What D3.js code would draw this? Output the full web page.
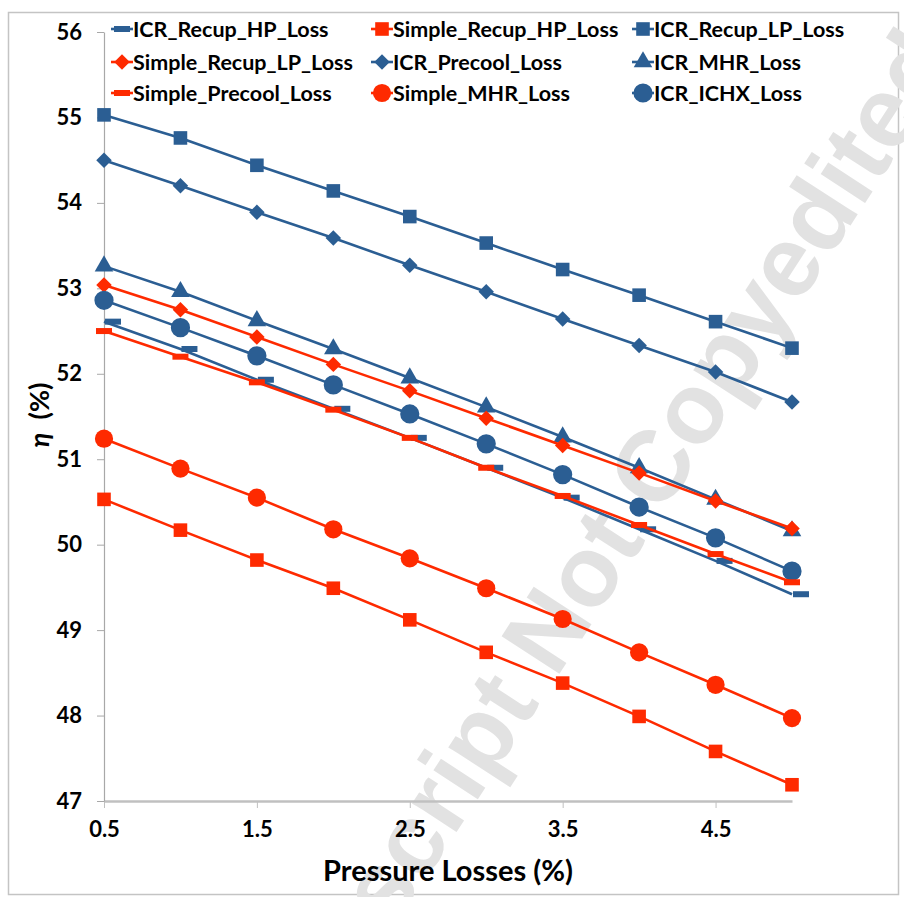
<!DOCTYPE html>
<html>
<head>
<meta charset="utf-8">
<script src="https://cdn.jsdelivr.net/npm/d3@7"></script>
<style>
	body { margin: 0; background: #fff; }
	svg text { font-family: Lato, "Open Sans", sans-serif; font-weight: bold; }
</style>
</head>
<body>
<svg></svg>
<script>
const svgWidth = 904;
const svgHeight = 897;
const svg = d3.select("svg")
				.attr("width", svgWidth)
				.attr("height", svgHeight);

const blue = "#2b5e93";
const red = "#fe2a00";

// pressure losses (%) on the x axis
const pressureLoss = [0.5, 1, 1.5, 2, 2.5, 3, 3.5, 4, 4.5, 5];
const xTickValues = [0.5, 1.5, 2.5, 3.5, 4.5];
const yTickValues = [47, 48, 49, 50, 51, 52, 53, 54, 55, 56];

// efficiency values
const icrRecupHP     = [52.61, 52.29, 51.93, 51.59, 51.25, 50.90, 50.55, 50.18, 49.81, 49.42];
const simpleRecupHP  = [50.53, 50.17, 49.82, 49.49, 49.12, 48.74, 48.38, 47.99, 47.58, 47.19];
const icrRecupLP     = [55.03, 54.76, 54.44, 54.14, 53.84, 53.53, 53.22, 52.92, 52.61, 52.30];
const simpleRecupLP  = [53.04, 52.75, 52.43, 52.11, 51.80, 51.48, 51.16, 50.84, 50.51, 50.19];
const icrPrecool     = [54.50, 54.20, 53.89, 53.59, 53.27, 52.96, 52.64, 52.33, 52.02, 51.67];
const icrMHR         = [53.26, 52.96, 52.62, 52.29, 51.95, 51.61, 51.26, 50.90, 50.53, 50.16];
const simplePrecool  = [52.50, 52.20, 51.90, 51.58, 51.25, 50.90, 50.57, 50.23, 49.89, 49.56];
const simpleMHR      = [51.24, 50.89, 50.55, 50.18, 49.84, 49.49, 49.13, 48.74, 48.36, 47.97];
const icrICHX        = [52.86, 52.54, 52.21, 51.87, 51.53, 51.18, 50.82, 50.44, 50.08, 49.69];

// legend order (row by row, 3 columns)
const series = [
	{name: "ICR_Recup_HP_Loss", values: icrRecupHP, color: blue, marker: "dash", shift: 9},
	{name: "Simple_Recup_HP_Loss", values: simpleRecupHP, color: red, marker: "square"},
	{name: "ICR_Recup_LP_Loss", values: icrRecupLP, color: blue, marker: "square"},
	{name: "Simple_Recup_LP_Loss", values: simpleRecupLP, color: red, marker: "diamond"},
	{name: "ICR_Precool_Loss", values: icrPrecool, color: blue, marker: "diamond"},
	{name: "ICR_MHR_Loss", values: icrMHR, color: blue, marker: "triangle"},
	{name: "Simple_Precool_Loss", values: simplePrecool, color: red, marker: "dash"},
	{name: "Simple_MHR_Loss", values: simpleMHR, color: red, marker: "circle"},
	{name: "ICR_ICHX_Loss", values: icrICHX, color: blue, marker: "circle"}
];
// drawing order so that overlaps look like the original
const drawOrder = [2, 4, 5, 3, 8, 0, 6, 7, 1];

const xScale = d3.scaleLinear().domain([0.5, 5]).range([104, 792]);
const yScale = d3.scaleLinear().domain([47, 56]).range([801, 32]);

// outer frame
svg.append("rect")
	.attr("x", 8.5).attr("y", 12.5)
	.attr("width", 890).attr("height", 882)
	.attr("fill", "none")
	.attr("stroke", "#c4c4c4")
	.attr("stroke-width", 1.5);

// watermark
svg.append("text")
	.text("Manuscript Not Copyedited")
	.attr("transform", "translate(250,1150) rotate(-57)")
	.attr("font-size", "100px")
	.style("font-family", "'Liberation Sans', Arial, sans-serif")
	.attr("fill", "#e2e2e2");

// axes
let xAxis = d3.axisBottom(xScale)
				.tickValues(xTickValues)
				.tickSizeInner(7)
				.tickSizeOuter(0)
				.tickPadding(13)
				.tickFormat(d3.format(".1f"));
let yAxis = d3.axisLeft(yScale)
				.tickValues(yTickValues)
				.tickSizeInner(7)
				.tickSizeOuter(0)
				.tickPadding(15)
				.tickFormat(d3.format("d"));

let gx = svg.append("g")
	.attr("transform", `translate(0, ${yScale(47)})`)
	.call(xAxis);
gx.select(".domain").attr("stroke", "#c0c0c0").attr("stroke-width", 2.5);
gx.selectAll(".tick line").attr("stroke", "#c0c0c0");
gx.selectAll(".tick text").attr("font-size", "22px").attr("fill", "#000");

let gy = svg.append("g")
	.attr("transform", `translate(${xScale(0.5)}, 0)`)
	.call(yAxis);
gy.select(".domain").attr("stroke", "#a8a8a8").attr("stroke-width", 1.2);
gy.selectAll(".tick line").attr("stroke", "#a8a8a8");
gy.selectAll(".tick text").attr("font-size", "22px").attr("fill", "#000");

// axis titles
svg.append("text")
	.text("Pressure Losses (%)")
	.attr("x", 448)
	.attr("y", 881)
	.attr("font-size", "29px")
	.attr("text-anchor", "middle");

svg.append("text")
	.attr("transform", "rotate(-90)")
	.attr("x", -415)
	.attr("y", 49)
	.attr("font-size", "27px")
	.attr("text-anchor", "middle")
	.call(t => {
		t.append("tspan").text("η").attr("font-style", "italic");
		t.append("tspan").text("\u00a0\u00a0(%)");
	});

// marker helper
function drawMarker(sel, type, color) {
	if (type == "dash") {
		sel.append("rect")
			.attr("x", -8).attr("y", -3)
			.attr("width", 16).attr("height", 6)
			.attr("fill", color);
	} else if (type == "square") {
		sel.append("path").attr("d", d3.symbol(d3.symbolSquare, 185)()).attr("fill", color);
	} else if (type == "diamond") {
		sel.append("path").attr("d", d3.symbol(d3.symbolSquare, 120)())
			.attr("transform", "rotate(45)").attr("fill", color);
	} else if (type == "triangle") {
		sel.append("path").attr("d", d3.symbol(d3.symbolTriangle, 150)()).attr("fill", color);
	} else if (type == "circle") {
		sel.append("path").attr("d", d3.symbol(d3.symbolCircle, color == blue ? 290 : 260)()).attr("fill", color);
	}
}

const line = d3.line()
				.x((d, i) => xScale(pressureLoss[i]))
				.y(d => yScale(d));

let plot = svg.append("g");
drawOrder.forEach(k => {
	let s = series[k];
	let g = plot.append("g");
	g.append("path")
		.attr("d", line(s.values))
		.attr("fill", "none")
		.attr("stroke", s.color)
		.attr("stroke-width", 2.6);
	g.selectAll("g.pt")
		.data(s.values)
		.enter()
		.append("g")
			.attr("class", "pt")
			.attr("transform", (d, i) => `translate(${xScale(pressureLoss[i]) + (s.shift || 0)}, ${yScale(d)})`)
			.each(function () { drawMarker(d3.select(this), s.marker, s.color); });
});

// legend
const legendCols = [122, 382, 643];
const legendRows = [29, 62, 93];
let legend = svg.append("g");
series.forEach((s, i) => {
	let cx = legendCols[i % 3];
	let cy = legendRows[Math.floor(i / 3)];
	let item = legend.append("g").attr("transform", `translate(${cx}, ${cy})`);
	item.append("line")
		.attr("x1", -11).attr("x2", 11)
		.attr("stroke", s.color)
		.attr("stroke-width", 2.6);
	drawMarker(item, s.marker, s.color);
	item.append("text")
		.text(s.name)
		.attr("x", 11)
		.attr("dy", "0.36em")
		.attr("font-size", "21.5px");
});
</script>
</body>
</html>
